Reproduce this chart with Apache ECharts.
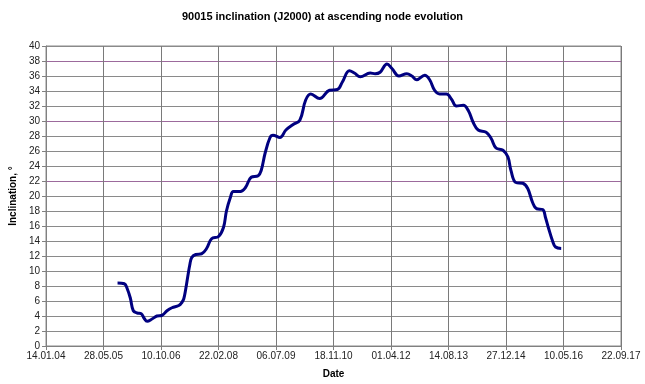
<!DOCTYPE html>
<html>
<head>
<meta charset="utf-8">
<script src="https://cdn.jsdelivr.net/npm/echarts@6/dist/echarts.min.js"></script>
<style>
html, body { margin: 0; padding: 0; background: #fff; }
#chart { width: 645px; height: 384px; }
</style>
</head>
<body>
<div id="chart"></div>
<script>
// x values are spreadsheet day numbers (38000 = 14.01.04)
var dateSerial = [38622, 38681, 38707, 38733, 38759, 38793, 38828, 38853, 38879, 38922,
	38965, 39009, 39052, 39095, 39155, 39181, 39198, 39215, 39233, 39250,
	39267, 39302, 39353, 39396, 39440, 39500, 39543, 39569, 39603, 39629,
	39690, 39733, 39784, 39845, 39871, 39905, 39948, 39974, 40034, 40086,
	40146, 40207, 40258, 40302, 40379, 40465, 40534, 40577, 40638, 40681,
	40733, 40819, 40862, 40905, 40965, 41008, 41069, 41138, 41181, 41224,
	41293, 41336, 41379, 41422, 41482, 41526, 41569, 41629, 41672, 41715,
	41758, 41827, 41870, 41913, 41974, 42017, 42043, 42086, 42146, 42189,
	42232, 42267, 42319, 42344, 42370, 42405, 42431, 42480];
var inclination = [8.4, 8.3, 7.6, 6.4, 4.7, 4.4, 4.3, 3.7, 3.3, 3.6,
	4.0, 4.1, 4.7, 5.1, 5.4, 5.8, 6.3, 7.6, 9.3, 10.8,
	11.8, 12.2, 12.3, 13.0, 14.3, 14.6, 15.8, 18.0, 19.8, 20.6,
	20.6, 21.1, 22.5, 22.7, 23.4, 25.7, 27.8, 28.1, 27.8, 28.8,
	29.5, 30.1, 32.8, 33.6, 33.0, 34.1, 34.2, 35.2, 36.7, 36.4,
	35.9, 36.4, 36.3, 36.5, 37.6, 37.0, 36.0, 36.3, 36.0, 35.5,
	36.1, 35.5, 34.1, 33.6, 33.6, 32.9, 32.0, 32.1, 31.4, 29.8,
	28.8, 28.5, 27.7, 26.4, 26.1, 25.2, 23.4, 21.8, 21.7, 21.0,
	19.1, 18.3, 18.2, 17.1, 15.7, 14.0, 13.2, 13.0];

var xMin = 38000, xMax = 43000, xStep = 500;
var yTicks = [0, 2, 4, 6, 8, 10, 12, 14, 16, 18, 20, 22, 24, 26, 28, 30, 32, 34, 36, 38, 40];

function serialToLabel(v) {
	var d = new Date(Date.UTC(1899, 11, 30) + v * 86400000);
	var dd = ("0" + d.getUTCDate()).slice(-2);
	var mm = ("0" + (d.getUTCMonth() + 1)).slice(-2);
	var yy = ("0" + (d.getUTCFullYear() % 100)).slice(-2);
	return dd + "." + mm + "." + yy;
}

var points = [];
for (var i = 0; i < dateSerial.length; i++) {
	points.push([dateSerial[i], inclination[i]]);
}

// a few horizontal gridlines come out purple in the original
var hColors = yTicks.map(function (t) {
	return (t == 22 || t == 30 || t == 38) ? '#9c6a9c' : '#8a8a8a';
});

var chart = echarts.init(document.getElementById('chart'));
var option = {
	animation: false,
	backgroundColor: '#fff',
	title: {
		text: '90015 inclination (J2000) at ascending node evolution',
		left: 'center',
		top: 6,
		textStyle: { fontFamily: 'Liberation Sans', fontSize: 11, fontWeight: 'bold', color: '#000' }
	},
	grid: { left: 41, right: 24, top: 46, bottom: 38, show: true, borderColor: '#8a8a8a', borderWidth: 1 },
	xAxis: {
		type: 'value',
		min: xMin,
		max: xMax,
		interval: xStep,
		name: 'Date',
		nameLocation: 'middle',
		nameGap: 23,
		nameTextStyle: { fontFamily: 'Liberation Sans', fontSize: 10, fontWeight: 'bold', color: '#000' },
		axisLine: { lineStyle: { color: '#808080' } },
		axisTick: { show: true, length: 4, lineStyle: { color: '#808080' } },
		axisLabel: { formatter: serialToLabel, fontFamily: 'Liberation Sans', fontSize: 10, color: '#222', margin: 5 },
		splitLine: { show: true, lineStyle: { color: '#7a7a7a', width: 1 } }
	},
	yAxis: {
		type: 'value',
		min: 0,
		max: 40,
		interval: 2,
		name: 'Inclination, °',
		nameLocation: 'middle',
		nameGap: 24,
		nameTextStyle: { fontFamily: 'Liberation Sans', fontSize: 10, fontWeight: 'bold', color: '#000' },
		axisLine: { show: true, lineStyle: { color: '#808080' } },
		axisTick: { show: true, length: 4, lineStyle: { color: '#808080' } },
		axisLabel: { fontFamily: 'Liberation Sans', fontSize: 10, color: '#222', margin: 6 },
		splitLine: { show: true, lineStyle: { color: hColors, width: 1 } }
	},
	series: [{
		type: 'line',
		data: points,
		smooth: 0.4,
		showSymbol: false,
		lineStyle: { color: '#000080', width: 3 }
	}]
};
chart.setOption(option);
</script>
</body>
</html>
